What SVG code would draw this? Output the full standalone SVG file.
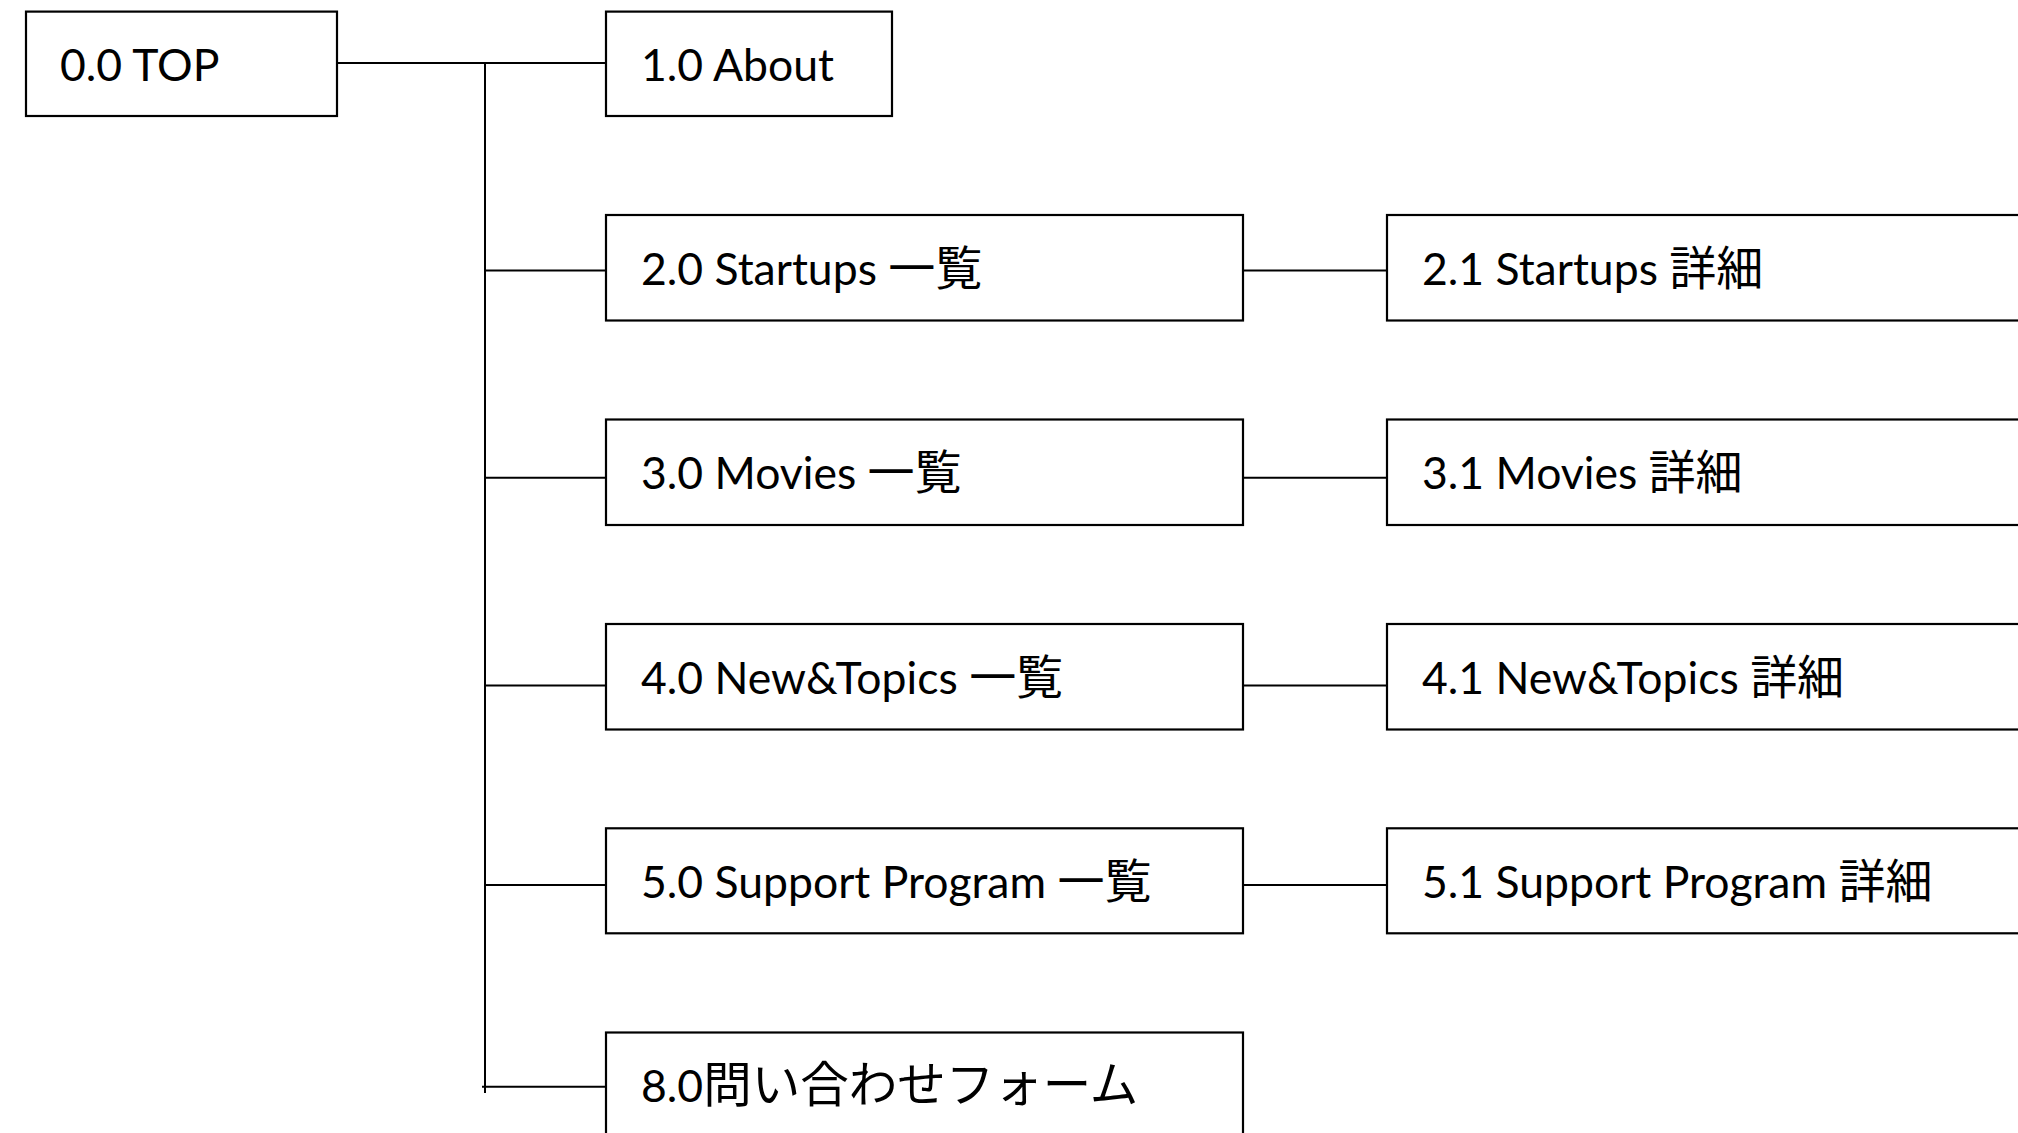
<svg xmlns="http://www.w3.org/2000/svg" width="2018" height="1133" viewBox="0 0 2018 1133">
  <style>
    .box { fill: #ffffff; stroke: #000000; stroke-width: 2.2; }
    .wire { fill: none; stroke: #000000; stroke-width: 2; }
    .label { font-family: Lato, "Noto Sans CJK JP", sans-serif; font-size: 44.5px; fill: #000000; }
    .cjk { font-family: "Noto Sans CJK JP", sans-serif; font-size: 47px; }
    .cjk-form { font-family: "Noto Sans CJK JP", sans-serif; font-size: 48.5px; }
  </style>
  <rect width="2018" height="1133" fill="#ffffff"/>

  <!-- connectors: trunk from TOP plus branches to each page -->
  <g id="connectors">
    <line class="wire" x1="337" y1="63" x2="606" y2="63"/>
    <line class="wire" x1="485" y1="63" x2="485" y2="1093"/>
    <line class="wire" x1="485" y1="270.5" x2="606" y2="270.5"/>
    <line class="wire" x1="485" y1="477.7" x2="606" y2="477.7"/>
    <line class="wire" x1="485" y1="685.5" x2="606" y2="685.5"/>
    <line class="wire" x1="485" y1="885" x2="606" y2="885"/>
    <line class="wire" x1="482" y1="1086.7" x2="606" y2="1086.7"/>
    <line class="wire" x1="1243" y1="270.5" x2="1387" y2="270.5"/>
    <line class="wire" x1="1243" y1="477.7" x2="1387" y2="477.7"/>
    <line class="wire" x1="1243" y1="685.5" x2="1387" y2="685.5"/>
    <line class="wire" x1="1243" y1="885" x2="1387" y2="885"/>
  </g>

  <g id="node-top">
    <rect class="box" x="26" y="11.6" width="311" height="104.4"/>
    <text class="label" x="60" y="80.5">0.0 TOP</text>
  </g>

  <g id="node-about">
    <rect class="box" x="606" y="11.6" width="286" height="104.4"/>
    <text class="label" x="641" y="80.5">1.0 About</text>
  </g>

  <g id="node-startups">
    <rect class="box" x="606" y="215" width="637" height="105.5"/>
    <text class="label" x="641" y="284.5">2.0 Startups <tspan class="cjk">一覧</tspan></text>
  </g>

  <g id="node-startups-detail">
    <rect class="box" x="1387" y="215" width="700" height="105.5"/>
    <text class="label" x="1422" y="284.5">2.1 Startups <tspan class="cjk">詳細</tspan></text>
  </g>

  <g id="node-movies">
    <rect class="box" x="606" y="419.5" width="637" height="105.5"/>
    <text class="label" x="641" y="489">3.0 Movies <tspan class="cjk">一覧</tspan></text>
  </g>

  <g id="node-movies-detail">
    <rect class="box" x="1387" y="419.5" width="700" height="105.5"/>
    <text class="label" x="1422" y="489">3.1 Movies <tspan class="cjk">詳細</tspan></text>
  </g>

  <g id="node-news">
    <rect class="box" x="606" y="624" width="637" height="105.5"/>
    <text class="label" x="641" y="693.5">4.0 New&amp;Topics <tspan class="cjk">一覧</tspan></text>
  </g>

  <g id="node-news-detail">
    <rect class="box" x="1387" y="624" width="700" height="105.5"/>
    <text class="label" x="1422" y="693.5">4.1 New&amp;Topics <tspan class="cjk">詳細</tspan></text>
  </g>

  <g id="node-support">
    <rect class="box" x="606" y="828.3" width="637" height="105"/>
    <text class="label" x="641" y="898">5.0 Support Program <tspan class="cjk">一覧</tspan></text>
  </g>

  <g id="node-support-detail">
    <rect class="box" x="1387" y="828.3" width="700" height="105"/>
    <text class="label" x="1422" y="898">5.1 Support Program <tspan class="cjk">詳細</tspan></text>
  </g>

  <g id="node-contact">
    <rect class="box" x="606" y="1032.5" width="637" height="140"/>
    <text class="label" x="641" y="1102">8.0<tspan class="cjk-form">問い合わせフォーム</tspan></text>
  </g>
</svg>
